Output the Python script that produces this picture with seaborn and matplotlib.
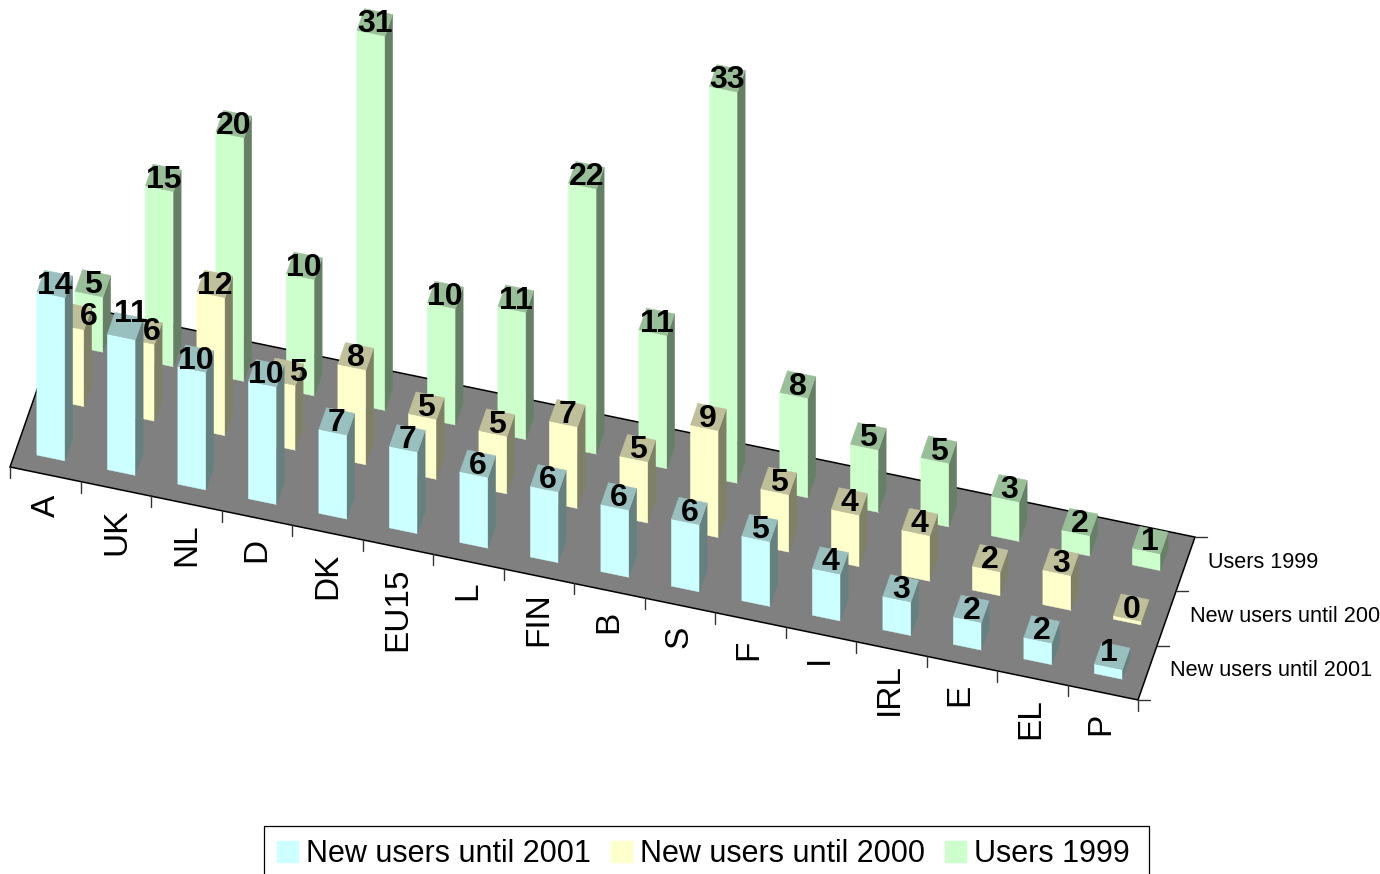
import matplotlib
matplotlib.use('Agg')
import matplotlib.pyplot as plt
from matplotlib.patches import Polygon, Rectangle
from matplotlib.transforms import Affine2D
import numpy as np
import seaborn as sns

countries = ['A', 'UK', 'NL', 'D', 'DK', 'EU15', 'L', 'FIN', 'B', 'S', 'F', 'I', 'IRL', 'E', 'EL', 'P']
series_names = ['New users until 2001', 'New users until 2000', 'Users 1999']

new_2001 = [13.6, 11.3, 9.8, 9.8, 7.0, 6.8, 5.9, 5.9, 5.6, 5.6, 5.4, 3.9, 2.8, 2.3, 1.8, 0.8]
new_2000 = [6.4, 6.4, 11.5, 5.4, 7.9, 5.0, 4.8, 6.8, 5.1, 8.9, 4.8, 4.3, 3.8, 2.0, 2.9, 0.3]
users_1999 = [4.6, 14.6, 20.3, 9.7, 31.2, 9.7, 10.6, 22.1, 11.1, 32.6, 8.3, 5.2, 5.3, 3.3, 1.7, 1.4]
series_values = [new_2001, new_2000, users_1999]

front_colors = ['#CCFFFF', '#FFFFCC', '#CCFFCC']
side_colors = ['#668080', '#808066', '#668066']
top_colors = ['#99BFBF', '#BFBF99', '#99BF99']

# oblique projection of the floor, in pixels
origin = np.array([10.0, 467.0])
cat_step = np.array([70.5, 14.56])
depth_step = np.array([19.0, -54.3])
unit_px = 12.0
bar_depth = 0.4
front_gap = 0.3

# labels the original moved off the top face, (series, category): (dx, dy)
label_nudge = {(0, 1): (6, -12), (1, 0): (15, 1), (1, 1): (8, 1), (1, 3): (13, 1), (0, 15): (-3, -3)}
tick_nudge = {'IRL': -6, 'FIN': -4}


def project(u, d, v=0.0):
    return origin + u * cat_step + d * depth_step + np.array([0.0, -unit_px]) * v


sns.set_theme(style='white')
plt.rcParams['font.family'] = ['Liberation Sans', 'DejaVu Sans']

fig, ax = plt.subplots(figsize=(13.8, 8.74), dpi=100)
fig.subplots_adjust(left=0, right=1, bottom=0, top=1)

# floor
n_cat = len(countries)
n_ser = len(series_names)
floor = [project(0, 0), project(n_cat, 0), project(n_cat, n_ser), project(0, n_ser)]
ax.add_patch(Polygon(floor, facecolor='#808080', edgecolor='black', lw=1.1, zorder=0))

for i in range(n_cat + 1):
    x, y = project(i, 0)
    ax.plot([x, x], [y, y + 11], color='#333333', lw=1, zorder=0)
for s in range(n_ser + 1):
    x, y = project(n_cat, s)
    ax.plot([x, x + 12], [y, y], color='#333333', lw=1, zorder=0)

labels = []
for s, name in enumerate(series_names):
    sns.barplot(x=countries, y=series_values[s], color=front_colors[s], saturation=1,
                width=0.4, errorbar=None, linewidth=0, label=name, ax=ax)
    container = ax.containers[-1]
    z = 5 - s
    # front faces keep the seaborn bars, only sheared onto the floor
    m = np.array([[cat_step[0], 0, 0],
                  [cat_step[1], -unit_px, 0],
                  [0, 0, 1]])
    m[:2, 2] = project(0.5, s + front_gap)
    shear = Affine2D(m)
    for i, bar in enumerate(container):
        bar.set_transform(shear + ax.transData)
        bar.set_zorder(z)
        bar.set_edgecolor(front_colors[s])
        bar.set_linewidth(0.3)
        left = bar.get_x() + 0.5
        right = left + bar.get_width()
        h = bar.get_height()
        d0 = s + front_gap
        d1 = d0 + bar_depth
        side = [project(right, d0), project(right, d1), project(right, d1, h), project(right, d0, h)]
        top = [project(left, d0, h), project(right, d0, h), project(right, d1, h), project(left, d1, h)]
        ax.add_patch(Polygon(side, facecolor=side_colors[s], edgecolor=side_colors[s], lw=0.3, zorder=z))
        ax.add_patch(Polygon(top, facecolor=top_colors[s], edgecolor=top_colors[s], lw=0.3, zorder=z))
        cx, cy = project((left + right) / 2, (d0 + d1) / 2, h)
        dx, dy = label_nudge.get((s, i), (0, 2))
        labels.append((cx + dx, cy + dy, f'{h:.0f}'))

for cx, cy, txt in labels:
    ax.text(cx, cy, txt, ha='center', va='center', fontsize=23, fontweight='bold',
            color='black', zorder=10)

# category labels under the front edge
for i, name in enumerate(countries):
    x, y = project(i + 0.5, 0)
    ax.text(x + 1 - 0.2 * i, y + 20 + tick_nudge.get(name, 0), name, rotation=90,
            ha='center', va='top', fontsize=24, color='black')

# series labels on the right edge
for s, name in enumerate(series_names):
    x, y = project(n_cat, s + 0.5)
    ax.text(x + 23, y - 2, name, ha='left', va='center', fontsize=15.6, color='black')

ax.set_xlim(0, 1380)
ax.set_ylim(874, 0)
ax.set_xlabel('')
ax.set_ylabel('')
ax.set_axis_off()

# legend box runs off the bottom of the picture
ax.add_patch(Rectangle((264, 826), 885, 60, facecolor='white', edgecolor='black', lw=0.9, zorder=11))
handles, names = ax.get_legend_handles_labels()
leg = ax.legend(handles, names, loc='upper left', bbox_to_anchor=(264, 826),
                bbox_transform=ax.transData, ncol=3, fontsize=22, frameon=False,
                labelcolor='black', borderaxespad=0, borderpad=0.44,
                handlelength=0.72, handleheight=0.72, handletextpad=0.23, columnspacing=0.65)
leg.set_zorder(12)

fig.savefig('out.png', dpi=100)
